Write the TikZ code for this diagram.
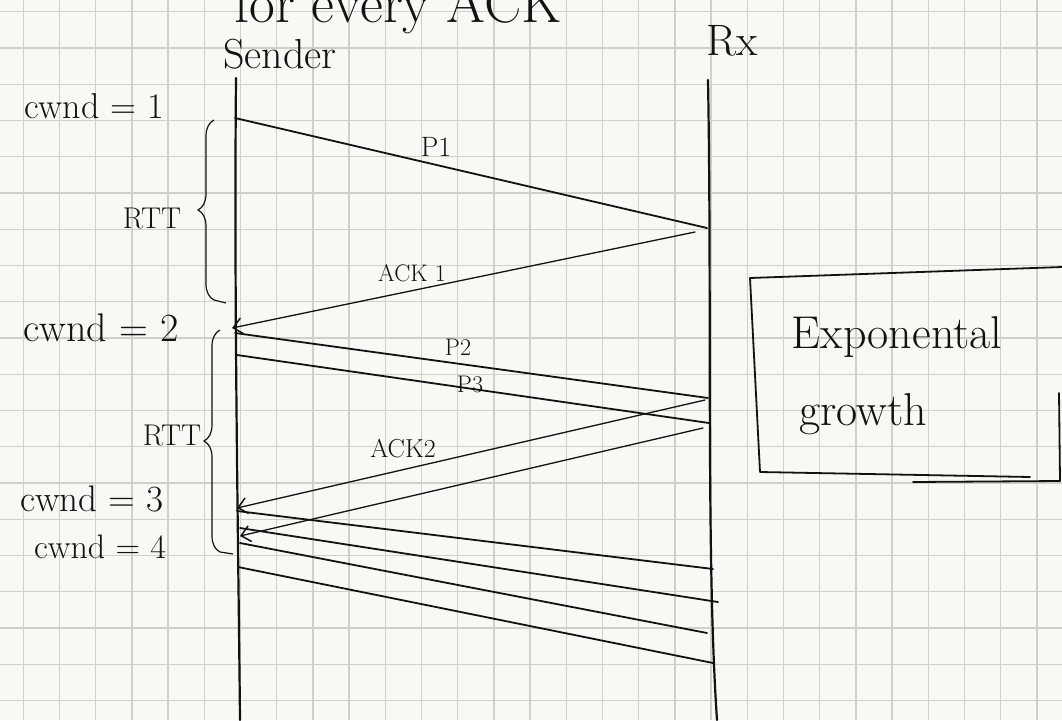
\documentclass[tikz,border=0pt]{standalone}
\usepackage{fontspec}
\usetikzlibrary{arrows.meta,decorations.pathreplacing}
\definecolor{paper}{RGB}{250,248,244}
\definecolor{gridline}{RGB}{210,206,200}
\definecolor{ink}{RGB}{18,18,18}
\newcommand{\fs}[1]{\fontsize{#1}{#1}\selectfont}
\tikzset{
  lbl/.style={inner sep=0pt, text=ink, anchor=base},
  lifeline/.style={draw=ink, line width=2.2pt, line cap=round},
  pkt/.style={draw=ink, line width=1.8pt, line cap=round},
  ackline/.style={draw=ink, line width=1.3pt, line cap=round,
    -{Straight Barb[length=9pt,width=16pt,line width=1.5pt]}},
  rttbrace/.style={draw=ink, line width=1.2pt, decorate,
    decoration={brace, amplitude=16pt}},
  frame/.style={draw=ink, line width=1.8pt, line cap=round, line join=round},
}
\begin{document}
\begin{tikzpicture}[x=1pt,y=-1pt]
\clip (0,0) rectangle (1062,720);
\fill[paper] (0,0) rectangle (1062,720);
% squared paper
\foreach \k in {-1,...,29}
  \draw[gridline, line width=1.3pt] ({23.3+36.2*\k},0) -- ({23.3+36.2*\k},720);
\foreach \k in {0,...,19}
  \draw[gridline, line width=1.3pt] (0,{11.7+36.25*\k}) -- (1062,{11.7+36.25*\k});

% heading, running off the top edge
\node[lbl] (head) at (398,22) {\fs{56}for every ACK};

% lifelines
\node[lbl] (sender) at (280,68) {\fs{42}Sender};
\node[lbl] (rx) at (732,55) {\fs{44}Rx};
\coordinate (sTop) at (236,78);
\coordinate (sBot) at (240,720);
\coordinate (rTop) at (708,80);
\coordinate (rBot) at (717,720);
\draw[lifeline] (sTop) .. controls (234,300) and (238,520) .. (sBot);
\draw[lifeline] (rTop) .. controls (712,300) and (706,560) .. (rBot);

% window sizes
\node[lbl] (c1) at (94,118) {\fs{36}cwnd = 1};
\node[lbl] (c2) at (101,341) {\fs{40}cwnd = 2};
\node[lbl] (c3) at (92,511) {\fs{37}cwnd = 3};
\node[lbl] (c4) at (100,558) {\fs{34}cwnd = 4};

% round-trip braces
\coordinate (br1b) at (214,300);
\coordinate (br1t) at (214,120);
\draw[rttbrace] (br1b) -- (br1t);
\draw[ink, line width=1.2pt] (br1b) -- ++(12,3);
\node[lbl] (rtt1) at (152,228) {\fs{30}RTT};
\coordinate (br2b) at (220,552);
\coordinate (br2t) at (220,330);
\draw[rttbrace] (br2b) -- (br2t);
\draw[ink, line width=1.2pt] (br2b) -- ++(13,2);
\node[lbl] (rtt2) at (172,445) {\fs{30}RTT};

% first round: one packet, one ack
\coordinate (s1) at (235,118);
\coordinate (r1) at (707,228);
\draw[pkt] (s1) -- (r1);
\node[lbl] (p1) at (436,156) {\fs{28}P1};
\coordinate (r1a) at (695,232);
\coordinate (s2) at (232,328);
\draw[ackline] (r1a) -- (s2);
\node[lbl] (a1) at (412,281) {\fs{24}ACK 1};

% second round: two packets, two acks
\coordinate (s2p) at (235,333);
\coordinate (r2) at (708,398);
\draw[pkt] (s2p) -- (r2);
\node[lbl] (p2) at (458,355) {\fs{24}P2};
\coordinate (s3p) at (237,355);
\coordinate (r3) at (709,423);
\draw[pkt] (s3p) -- (r3);
\node[lbl] (p3) at (470,392) {\fs{24}P3};
\coordinate (r2a) at (705,400);
\coordinate (s3) at (237,508);
\draw[ackline] (r2a) -- (s3);
\coordinate (r3a) at (703,428);
\coordinate (s4) at (240,536);
\draw[ackline] (r3a) -- (s4);
\node[lbl] (a2) at (403,457) {\fs{26}ACK2};

% third round: four packets
\coordinate (q1s) at (237,511);
\coordinate (q1r) at (713,569);
\coordinate (q2s) at (240,528);
\coordinate (q2r) at (718,602);
\coordinate (q3s) at (240,543);
\coordinate (q3r) at (707,633);
\coordinate (q4s) at (238,567);
\coordinate (q4r) at (713,663);
\draw[pkt] (q1s) -- (q1r);
\draw[pkt] (q2s) -- (q2r);
\draw[pkt] (q3s) -- (q3r);
\draw[pkt] (q4s) -- (q4r);

% side note
\node[lbl] (expo) at (897,348) {\fs{46}Exponental};
\node[lbl] (grow) at (863,425) {\fs{46}growth};
\coordinate (f1) at (750,278);
\coordinate (f2) at (1062,267);
\coordinate (f3) at (760,472);
\coordinate (f4) at (1030,477);
\coordinate (f5) at (913,482);
\coordinate (f6) at (1060,481);
\coordinate (f7) at (1059,393);
\draw[frame] (f2) -- (f1) -- (f3) -- (f4);
\draw[frame] (f5) -- (f6) -- (f7);
\end{tikzpicture}
\end{document}
